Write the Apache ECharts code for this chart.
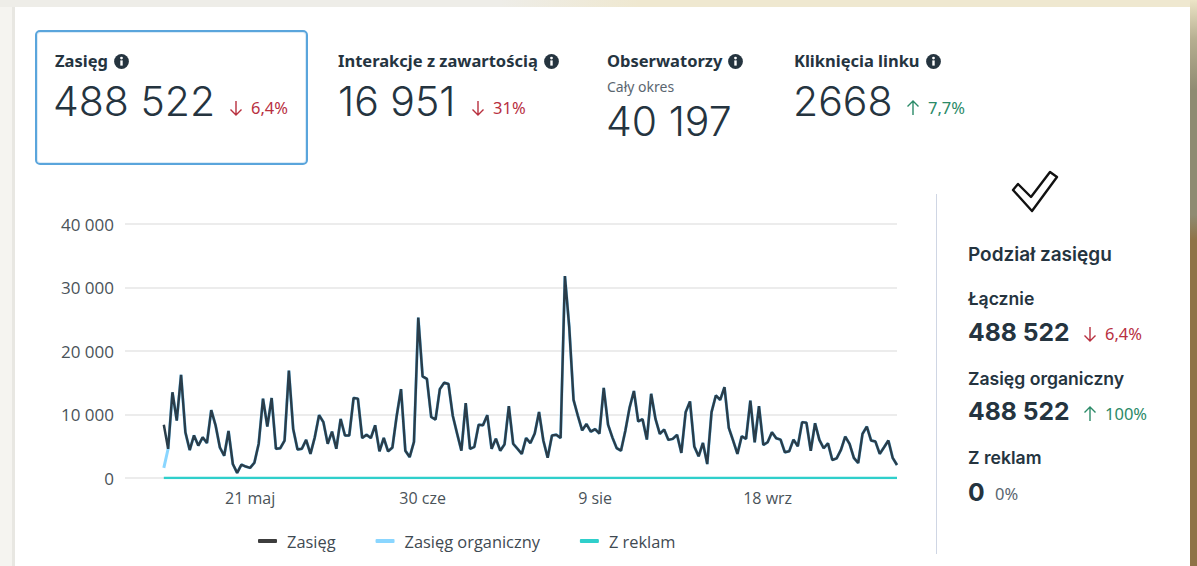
<!DOCTYPE html>
<html><head><meta charset="utf-8">
<script src="https://cdn.jsdelivr.net/npm/echarts@6/dist/echarts.min.js"></script>
<style>
html,body{margin:0;padding:0;width:1197px;height:566px;overflow:hidden;background:#f5f4f0}
#strip{position:absolute;left:12px;top:0;width:3px;height:566px;background:#e8e7e2}
#top{position:absolute;left:0;top:0;width:1197px;height:7px;background:linear-gradient(90deg,#eeede8 0,#eeede8 500px,#efe8d0 640px,#efe8d0 100%)}
#right{position:absolute;left:1190px;top:0;width:7px;height:566px;background:linear-gradient(#ece4c6 0,#b5ae90 40px,#8f8b72 90px,#8f8b72 215px,#8e7347 240px,#8e7347 100%)}
#card{position:absolute;left:15px;top:7px;width:1175px;height:559px;background:#fff}
#chart{position:absolute;left:0;top:0;width:1197px;height:566px}
.t{position:absolute;white-space:nowrap;color:#25343f;font-family:"Noto Sans",sans-serif}
.lab{font-weight:700;font-size:16.5px;line-height:20px;display:flex;align-items:center;gap:6px}
.big{font-family:Inter,sans-serif;font-weight:300;font-size:41px;line-height:44px;color:#25343f}
.pct{font-size:16.5px;line-height:20px;display:flex;align-items:center;gap:8px}
.red{color:#b8303f}.green{color:#2b8a68}.grey{color:#5a6670}
.bold{font-family:Inter,sans-serif;font-weight:600;font-size:17.6px;line-height:20px}
.num{font-family:Inter,sans-serif;font-weight:700;font-size:24.7px;line-height:28px}
#sel{position:absolute;left:35px;top:30px;width:269px;height:131px;border:2px solid #5aa5dc;border-radius:5px;box-shadow:inset 0 0 0 1px #dcebf6}
#div{position:absolute;left:936px;top:194px;width:1px;height:360px;background:#cfd6e4}
</style></head><body>
<div id="strip"></div><div id="top"></div><div id="right"></div><div id="card"></div>
<div id="chart"></div>
<div id="sel"></div><div id="div"></div>
<script>
const dayLabels = ['21 maj','30 cze','9 sie','18 wrz'];
const dayTicks = [20,60,100,140];
const reachValues = [8400,4600,13500,9050,16260,7200,4400,6700,5100,6400,5500,10700,8300,4800,3500,7400,2200,800,2100,1800,1600,2400,5400,12500,8100,12600,4600,4700,5900,16900,7700,4500,4600,6000,3800,6400,9900,8800,5400,7300,4600,9300,6700,6700,12600,12500,6300,6800,6300,8300,4200,6300,4200,4800,9800,14000,4300,3300,5700,25260,16000,15600,9600,9200,14000,15000,14800,9800,7000,4300,11800,4600,4900,8400,8300,9900,4600,6200,4300,5300,11300,5400,4600,3800,6300,5500,7000,10400,5900,3200,6700,6800,6300,31800,23800,12300,9800,7500,8500,7300,7700,7000,14200,8400,6400,4700,4300,7400,11100,13700,8900,9260,6050,13260,9300,6950,7630,6000,6160,6800,3950,10370,12050,4950,3420,5530,2200,10370,13000,12300,14300,7900,5900,3800,6580,6160,12200,5630,11300,5200,5630,7200,6260,6050,4050,4200,6050,5000,8800,8700,4300,8630,6000,4680,5470,2840,3100,4420,6530,5370,3160,2370,6950,8100,5900,5740,3800,4840,5900,3160,2050];
const organicValues = [1600].concat(reachValues.slice(1));
const adsValues = reachValues.map(() => 0);

const fmt = v => String(v).replace(/\B(?=(\d{3})+$)/g,' ');
const names = ['Zasięg','Zasięg organiczny','Z reklam'];
const pair = arr => arr.map((v,i)=>[i,v]);
const font='"Open Sans","Noto Sans",sans-serif';

const chart = echarts.init(document.getElementById('chart'),null,{renderer:'svg'});
chart.setOption({
  animation:false,
  textStyle:{fontFamily:font},
  grid:{left:125,right:300,top:224,height:254},
  legend:{data:names,left:253,top:528,itemWidth:19,itemHeight:4,itemGap:40,icon:'roundRect',
    textStyle:{color:'#3f4a52',fontSize:16.4,fontFamily:font,padding:[0,0,0,5]}},
  xAxis:{type:'value',min:-9,max:reachValues.length-1,
    axisLine:{show:false},axisTick:{show:false},splitLine:{show:false},
    axisLabel:{customValues:dayTicks,formatter:v=>dayLabels[dayTicks.indexOf(+v)]||'',color:'#4a5359',fontSize:16,margin:12,hideOverlap:false}},
  yAxis:{type:'value',min:0,max:40000,interval:10000,
    axisLine:{show:false},axisTick:{show:false},
    axisLabel:{formatter:v=>fmt(v),color:'#4a5359',fontSize:17,margin:11},
    splitLine:{lineStyle:{color:'#e6e6e6',width:1.5}}},
  series:[
    {name:names[0],type:'line',data:pair(reachValues),z:4,showSymbol:false,symbol:'none',itemStyle:{color:'#3d3d3d'},lineStyle:{color:'#2a3d4a',width:2.5}},
    {name:names[1],type:'line',data:pair(organicValues),z:3,showSymbol:false,symbol:'none',itemStyle:{color:'#8ad6ff'},lineStyle:{color:'#8ad6ff',width:3}},
    {name:names[2],type:'line',data:pair(adsValues),z:5,showSymbol:false,symbol:'none',itemStyle:{color:'#2fcfcb'},lineStyle:{color:'#2fcfcb',width:2.4}}
  ]
});

const info='<svg width="15" height="15" viewBox="0 0 15 15"><circle cx="7.5" cy="7.5" r="7.4" fill="#25343f"/><rect x="6.3" y="6.4" width="2.4" height="5.2" fill="#fff"/><circle cx="7.5" cy="4.1" r="1.4" fill="#fff"/></svg>';
const down='<svg width="14" height="16" viewBox="0 0 14 16"><path d="M7 1V15M1.5 9.5L7 15L12.5 9.5" fill="none" stroke="currentColor" stroke-width="1.4"/></svg>';
const up='<svg width="14" height="16" viewBox="0 0 14 16"><path d="M7 15V1M1.5 6.5L7 1L12.5 6.5" fill="none" stroke="currentColor" stroke-width="1.4"/></svg>';
const items=[
 ['t lab',55,51,'Zasięg '+info],
 ['t big',53,79,'488 522'],
 ['t pct red',229,98,down+'<span>6,4%</span>'],
 ['t lab',338,51,'Interakcje z zawartością '+info],
 ['t big',338,79,'16 951'],
 ['t pct red',471,98,down+'<span>31%</span>'],
 ['t lab',607,51,'Obserwatorzy '+info],
 ['t grey',607,75,'<span style="font-size:14px;line-height:20px">Cały okres</span>'],
 ['t big',606,99,'40 197'],
 ['t lab',794,51,'Kliknięcia linku '+info],
 ['t big',793,79,'2668'],
 ['t pct green',906,98,up+'<span>7,7%</span>'],
 ['t bold',968,245,'<span style="font-size:19px">Podział zasięgu</span>'],
 ['t bold',968,289,'Łącznie'],
 ['t num',968,318,'488 522'],
 ['t pct red',1083,324,down+'<span>6,4%</span>'],
 ['t bold',968,369,'Zasięg organiczny'],
 ['t num',968,397,'488 522'],
 ['t pct green',1083,404,up+'<span>100%</span>'],
 ['t bold',968,448,'Z reklam'],
 ['t num',968,478,'0'],
 ['t pct grey',995,484,'0%']
];
for(const [c,x,y,h] of items){const d=document.createElement('div');d.className=c;d.style.left=x+'px';d.style.top=y+'px';d.innerHTML=h;document.body.appendChild(d);}
const s=document.createElementNS('http://www.w3.org/2000/svg','svg');
s.setAttribute('width','50');s.setAttribute('height','48');s.style.cssText='position:absolute;left:1010px;top:168px';
s.innerHTML='<path d="M3 22 L8 16 L21 29 L40 4 L47 9 L22 43 Z" fill="#fff" stroke="#111" stroke-width="2.4" stroke-linejoin="round"/>';
document.body.appendChild(s);
</script>
</body></html>
